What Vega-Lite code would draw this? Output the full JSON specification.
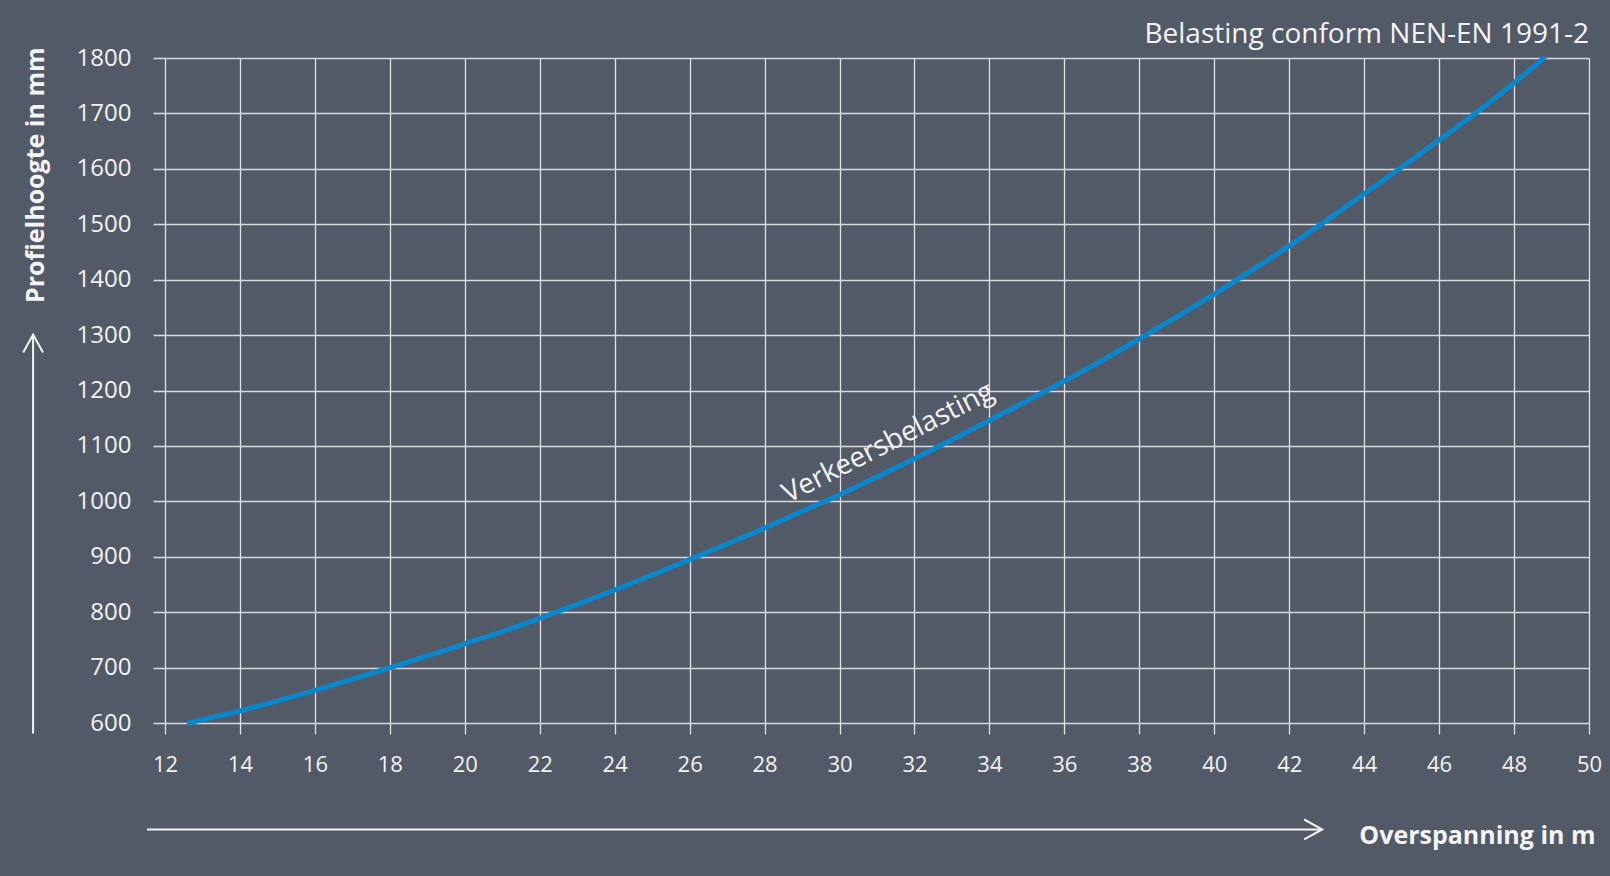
{
  "$schema": "https://vega.github.io/schema/vega-lite/v6.json",
  "width": 1424,
  "height": 665,
  "autosize": {"type": "none"},
  "padding": {"left": 165, "top": 58, "right": 21, "bottom": 153},
  "background": "#535a67",
  "config": {"view": {"stroke": null}, "font": "Open Sans"},
  "title": {
    "text": "Belasting conform NEN-EN 1991-2",
    "anchor": "end",
    "frame": "group",
    "fontSize": 28,
    "fontWeight": "normal",
    "font": "Open Sans",
    "color": "#f4f4f4",
    "baseline": "bottom",
    "offset": 8,
    "dy": 39
  },
  "datasets": {
    "curve": [
      {"overspanning": 12.65, "profielhoogte": 600},
      {"overspanning": 13, "profielhoogte": 606},
      {"overspanning": 14, "profielhoogte": 622},
      {"overspanning": 15, "profielhoogte": 640},
      {"overspanning": 16, "profielhoogte": 659},
      {"overspanning": 17, "profielhoogte": 679},
      {"overspanning": 18, "profielhoogte": 700},
      {"overspanning": 19, "profielhoogte": 721},
      {"overspanning": 20, "profielhoogte": 743},
      {"overspanning": 21, "profielhoogte": 765},
      {"overspanning": 22, "profielhoogte": 789},
      {"overspanning": 23, "profielhoogte": 814},
      {"overspanning": 24, "profielhoogte": 840},
      {"overspanning": 25, "profielhoogte": 867},
      {"overspanning": 26, "profielhoogte": 895},
      {"overspanning": 27, "profielhoogte": 923},
      {"overspanning": 28, "profielhoogte": 952},
      {"overspanning": 29, "profielhoogte": 982},
      {"overspanning": 30, "profielhoogte": 1012},
      {"overspanning": 31, "profielhoogte": 1044},
      {"overspanning": 32, "profielhoogte": 1077},
      {"overspanning": 33, "profielhoogte": 1111},
      {"overspanning": 34, "profielhoogte": 1146},
      {"overspanning": 35, "profielhoogte": 1181},
      {"overspanning": 36, "profielhoogte": 1217},
      {"overspanning": 37, "profielhoogte": 1254},
      {"overspanning": 38, "profielhoogte": 1293},
      {"overspanning": 39, "profielhoogte": 1333},
      {"overspanning": 40, "profielhoogte": 1374},
      {"overspanning": 41, "profielhoogte": 1417},
      {"overspanning": 42, "profielhoogte": 1461},
      {"overspanning": 43, "profielhoogte": 1507},
      {"overspanning": 44, "profielhoogte": 1555},
      {"overspanning": 45, "profielhoogte": 1603},
      {"overspanning": 46, "profielhoogte": 1652},
      {"overspanning": 47, "profielhoogte": 1702},
      {"overspanning": 48, "profielhoogte": 1755},
      {"overspanning": 48.8, "profielhoogte": 1800}
    ],
    "annotation": [
      {"overspanning": 31.4, "profielhoogte": 1092, "label": "Verkeersbelasting"}
    ]
  },
  "layer": [
    {
      "data": {"name": "curve"},
      "mark": {"type": "line", "color": "#0a87cc", "strokeWidth": 5, "interpolate": "monotone", "strokeCap": "round"},
      "encoding": {
        "x": {
          "field": "overspanning",
          "type": "quantitative",
          "scale": {"domain": [12, 50], "nice": false, "zero": false},
          "axis": {
            "values": [12,13,14,15,16,17,18,19,20,21,22,23,24,25,26,27,28,29,30,31,32,33,34,35,36,37,38,39,40,41,42,43,44,45,46,47,48,49,50],
            "labelExpr": "datum.value % 2 === 0 ? datum.label : ''",
            "grid": true,
            "gridColor": "#dfe1e5",
            "gridWidth": 1.3,
            "gridOpacity": 1,
            "domain": false,
            "ticks": true,
            "tickSize": 11,
            "tickColor": "#dfe1e5",
            "tickWidth": 1.3,
            "labelFontSize": 22,
            "labelFont": "Open Sans",
            "labelColor": "#f2f2f2",
            "labelPadding": 20,
            "labelFlush": false,
            "labelOverlap": false,
            "title": "Overspanning in m",
            "titleFont": "Open Sans",
            "titleFontSize": 25,
            "titleFontWeight": "bold",
            "titleColor": "#f4f4f4",
            "titleX": 1430,
            "titleY": 120,
            "titleAlign": "right",
            "titleBaseline": "alphabetic",
            "titleAnchor": "end"
          }
        },
        "y": {
          "field": "profielhoogte",
          "type": "quantitative",
          "scale": {"domain": [600, 1800], "nice": false, "zero": false},
          "axis": {
            "values": [600,700,800,900,1000,1100,1200,1300,1400,1500,1600,1700,1800],
            "format": "d",
            "grid": true,
            "gridColor": "#d6d9de",
            "gridWidth": 1.6,
            "gridOpacity": 1,
            "domain": false,
            "ticks": true,
            "tickSize": 12,
            "tickColor": "#d6d9de",
            "tickWidth": 1.6,
            "labelFontSize": 24,
            "labelFont": "Open Sans",
            "labelColor": "#f2f2f2",
            "labelPadding": 22,
            "labelOverlap": false,
            "title": "Profielhoogte in mm",
            "titleFont": "Open Sans",
            "titleFontSize": 25,
            "titleFontWeight": "bold",
            "titleColor": "#f4f4f4",
            "titleAngle": 270,
            "titleX": -130,
            "titleY": -11,
            "titleAlign": "right",
            "titleBaseline": "middle",
            "titleAnchor": "start"
          }
        }
      }
    },
    {
      "data": {"name": "annotation"},
      "mark": {"type": "text", "angle": -27, "align": "center", "baseline": "alphabetic", "fontSize": 28, "font": "Open Sans", "color": "#f4f4f4"},
      "encoding": {
        "x": {"field": "overspanning", "type": "quantitative"},
        "y": {"field": "profielhoogte", "type": "quantitative"},
        "text": {"field": "label"}
      }
    },
    {
      "data": {"values": [{}]},
      "mark": {"type": "rule", "color": "#f4f4f4", "strokeWidth": 2},
      "encoding": {
        "x": {"datum": 11.52},
        "x2": {"datum": 42.85},
        "y": {"datum": 408}
      }
    },
    {
      "data": {"values": [{}]},
      "mark": {"type": "point", "shape": "M-1,-0.55L0,0L-1,0.55", "size": 1296, "filled": false, "stroke": "#f4f4f4", "strokeWidth": 2, "opacity": 1},
      "encoding": {
        "x": {"datum": 42.88},
        "y": {"datum": 408}
      }
    },
    {
      "data": {"values": [{}]},
      "mark": {"type": "rule", "color": "#f4f4f4", "strokeWidth": 2},
      "encoding": {
        "x": {"datum": 8.48},
        "y": {"datum": 581},
        "y2": {"datum": 1300}
      }
    },
    {
      "data": {"values": [{}]},
      "mark": {"type": "point", "shape": "M-0.55,1L0,0L0.55,1", "size": 1296, "filled": false, "stroke": "#f4f4f4", "strokeWidth": 2, "opacity": 1},
      "encoding": {
        "x": {"datum": 8.48},
        "y": {"datum": 1301}
      }
    }
  ]
}
